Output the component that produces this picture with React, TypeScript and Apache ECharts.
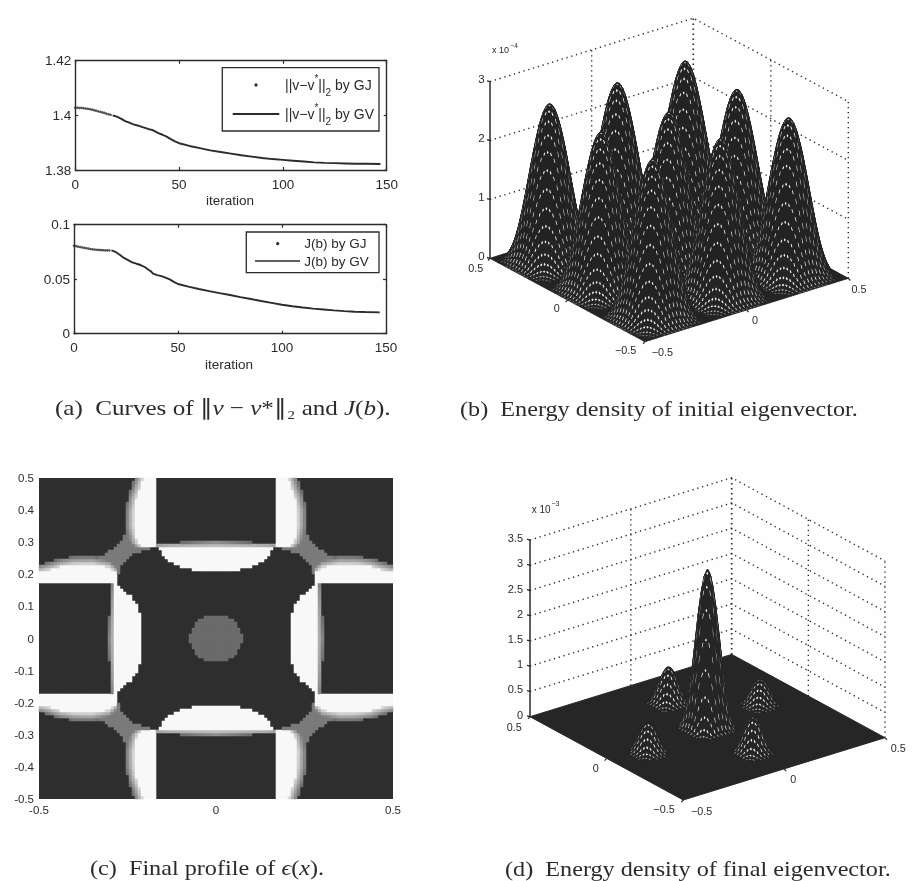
import React, { useEffect, useRef } from "react";
import * as echarts from "echarts";

// ---------- panel (a) ----------
const gjIter = [0,1,2,3,4,5,6,7,8,9,10,11,12,13,14,15,16,17];
const gjNorm = [1.4028,1.4028,1.4027,1.4027,1.4026,1.4025,1.4024,1.4023,1.4021,1.4019,1.4017,1.4015,1.4013,1.4011,1.4009,1.4006,1.4004,1.4002];
const gjCost = [.0807,.0803,.0799,.0795,.0791,.0787,.0784,.078,.0777,.0774,.0772,.077,.0768,.0767,.0766,.0765,.0765,.0765];
const gvIter = [18,20,22,24,26,28,30,32,34,36,37,38,40,42,44,46,48,50,55,60,65,70,75,80,85,90,95,100,105,110,115,120,125,130,135,140,147];
const gvNorm = [1.4,1.3995,1.3988,1.3979,1.3973,1.3967,1.3963,1.3958,1.3953,1.3948,1.3947,1.3943,1.3935,1.3929,1.3922,1.3913,1.3905,1.3898,1.3888,1.388,1.3872,1.3866,1.386,1.3854,1.3849,1.3844,1.384,1.3837,1.3834,1.3831,1.3828,1.3826,1.3825,1.3824,1.3823,1.3823,1.3822];
const gvCost = [.0765,.075,.0725,.0695,.0675,.0655,.0642,.063,.0612,.0585,.0572,.0552,.0538,.0528,.0515,.0498,.0475,.0456,.0432,.041,.039,.0372,.0355,.0335,.0318,.03,.0283,.0266,.0252,.024,.023,.0222,.0214,.0207,.0202,.0199,.0196];

// ---------- panels (b), (d): read from the silhouettes ----------
const halfLobe = [0,.007,.03,.066,.115,.175,.245,.325,.41,.5,.59,.675,.755,.825,.885,.935,.97,.992,1];
const peakHeightsB = [[2.69,2.68,2.68],[2.68,2.66,2.68],[2.67,2.68,2.69]]; // x 1e-4
// u, v, height (x 1e-3), half width
const bumpU = [.5,.5,.17,.52,.8];
const bumpV = [.5,.2,.45,.78,.55];
const bumpH = [3.13,.7,.6,.71,.5];
const bumpR = [.1,.08,.08,.08,.08];
const zTicksB = [0,1,2,3];
const zTicksD = [0,.5,1,1.5,2,2.5,3,3.5];
const zLabelsD = ["0","0.5","1","1.5","2","2.5","3","3.5"];

// ---------- panel (c): boundaries (one quadrant, mirrored) ----------
const armOuterY = [.283,.3,.35,.4,.44,.47,.5];
const armOuterA = [.205,.222,.232,.231,.224,.214,.206];
const capInnerA = [0,.05,.1,.13,.15,.165,.172];
const capInnerB = [.21,.211,.221,.24,.263,.281,.286];
const wedgeInX = [.17,.19,.21,.23,.25,.268,.282,.29];
const wedgeInY = [.279,.277,.272,.266,.245,.219,.182,.17];
const wedgeOutX = [.2,.235,.25,.264,.29,.31,.34,.377,.42];
const wedgeOutY = [.41,.365,.336,.312,.282,.264,.25,.238,.228];
const holeRadius = .073;

const lookup = (xs: number[], ys: number[], x: number) => {
  if (x <= xs[0]) return ys[0];
  for (let i = 1; i < xs.length; i++) {
    if (x <= xs[i]) return ys[i - 1] + (ys[i] - ys[i - 1]) * (x - xs[i - 1]) / (xs[i] - xs[i - 1]);
  }
  return ys[ys.length - 1];
};

const armCap = (a: number, b: number) => {
  if (a >= .172 && b >= .283) {
    const o = lookup(armOuterY, armOuterA, b);
    if (a <= o) return 1;
    if (a <= o + .024) return .85 - .55 * (a - o) / .024;
    return 0;
  }
  if (a < .172) {
    const i = lookup(capInnerA, capInnerB, a);
    if (b >= i && b <= .286) return 1;
    const band = .008 + .012 * (1 - a / .172);
    if (b > .286 && b <= .286 + band) return .8 - .5 * (b - .286) / band;
  }
  return 0;
};

const epsilonCell = (x0: number, y0: number) => {
  const x = Math.abs(x0), y = Math.abs(y0);
  if (Math.hypot(x, y) < holeRadius) return .3;
  let v = Math.max(armCap(x, y), armCap(y, x));
  if (v < .38 && x > .17 && y > .17) {
    const inWedge = (p: number, q: number) =>
      q >= lookup(wedgeInX, wedgeInY, p) && q <= lookup(wedgeOutX, wedgeOutY, p);
    if (inWedge(x, y) && inWedge(y, x)) v = .38;
  }
  return v;
};

const CELLS_X = 118;
const CELLS_Y = 107;
const epsCatsX = Array.from({ length: CELLS_X }, (_, i) => String(i));
const epsCatsY = Array.from({ length: CELLS_Y }, (_, i) => String(i));
const epsData: number[][] = [];
for (let i = 0; i < CELLS_X; i++) for (let j = 0; j < CELLS_Y; j++) {
  const v = epsilonCell((i + .5) / CELLS_X - .5, (j + .5) / CELLS_Y - .5);
  if (v > 0) epsData.push([i, j, v]);
}

// ---------- 3-D projection ----------
type View = { fx: number; fy: number; rx: number; ry: number; lx: number; ly: number; k: number };
const viewB: View = { fx: 645, fy: 341.7, rx: 848.3, ry: 278.3, lx: 490, ly: 258.3, k: 58.9 };
const viewD: View = { fx: 683.3, fy: 800, rx: 885, ry: 737.7, lx: 530, ly: 716.7, k: 50.48 };
const proj = (w: View, u: number, v: number, z: number) => [
  w.fx + u * (w.rx - w.fx) + v * (w.lx - w.fx),
  w.fy + u * (w.ry - w.fy) + v * (w.ly - w.fy) - z * w.k,
];

const LOBE = (halfLobe.length - 1) * 2;
const MESH = LOBE * 3;
const prof = (i: number) => { const m = i % LOBE; return halfLobe[m <= LOBE / 2 ? m : LOBE - m]; };
const zB = (i: number, j: number) =>
  peakHeightsB[Math.min(2, Math.floor(i / LOBE))][Math.min(2, Math.floor(j / LOBE))] * prof(i) * prof(j);
const lobeAt = (d: number) => {
  const t = Math.abs(d);
  if (t >= 1) return 0;
  const xs = halfLobe.map((_, n) => 1 - n / (halfLobe.length - 1));
  const rev = [...xs].reverse(); const vals = [...halfLobe].reverse();
  return lookup(rev, vals, t);
};
const zD = (i: number, j: number) => {
  let s = 0;
  const u = i / MESH, v = j / MESH;
  for (let n = 0; n < bumpU.length; n++) s += bumpH[n] * lobeAt((u - bumpU[n]) / bumpR[n]) * lobeAt((v - bumpV[n]) / bumpR[n]);
  return s;
};
type Quad = { pts: number[][]; lens: number[][] | null; glow: string };
const quads = (w: View, zf: (i: number, j: number) => number, minZ: number) => {
  const out: Quad[] = [];
  for (let i = MESH - 1; i >= 0; i--) for (let j = MESH - 1; j >= 0; j--) {
    const a = zf(i, j), b = zf(i + 1, j), c = zf(i + 1, j + 1), d = zf(i, j + 1);
    if (Math.max(a, b, c, d) < minZ) continue;
    const A = proj(w, i / MESH, j / MESH, a), B = proj(w, (i + 1) / MESH, j / MESH, b);
    const C = proj(w, (i + 1) / MESH, (j + 1) / MESH, c), D = proj(w, i / MESH, (j + 1) / MESH, d);
    let lens: number[][] | null = null;
    let glow = "#eee";
    const h = A[1] - C[1];
    if ((i + j) % 2 === 0 && h > 2.1) {
      const cx = (A[0] + B[0] + C[0] + D[0]) / 4, cy = (A[1] + B[1] + C[1] + D[1]) / 4;
      const f = h < 4 ? 1 : h > 10 ? .6 : 1 - .4 * (h - 4) / 6;
      const t = Math.min(1.7, .25 + .16 * h);
      const g = Math.round(h >= 6 ? 240 : 110 + 130 * (h - 2.1) / 3.9);
      glow = `rgb(${g},${g},${g})`;
      lens = [
        [cx + f * (D[0] - cx), cy + f * (D[1] - cy)],
        [cx, cy - t],
        [cx + f * (B[0] - cx), cy + f * (B[1] - cy)],
        [cx, cy + t],
      ];
    }
    out.push({ pts: [A, B, C, D], lens, glow });
  }
  return out;
};

// wall grid, floor and z axis
const INK = "#2b2b2b";
type Seg = { pts: number[][]; dash?: number[]; width?: number; fill?: string };
const walls = (w: View, ticks: number[], zmax: number): Seg[] => {
  const out: Seg[] = [];
  for (const z of ticks) {
    if (z === 0) continue;
    out.push({ pts: [proj(w, 0, 1, z), proj(w, 1, 1, z), proj(w, 1, 0, z)] });
  }
  out.push({ pts: [proj(w, .5, 1, 0), proj(w, .5, 1, zmax)] });
  out.push({ pts: [proj(w, 1, 1, 0), proj(w, 1, 1, zmax)], width: 1.7 });
  out.push({ pts: [proj(w, 1, .5, 0), proj(w, 1, .5, zmax)] });
  out.push({ pts: [proj(w, 1, 0, 0), proj(w, 1, 0, zmax)] });
  return out.map((s) => ({ dash: [1.3, 3.7], width: 1.4, ...s }));
};
const frontAxes = (w: View, ticks: number[], zmax: number): Seg[] => {
  const out: Seg[] = [{ pts: [proj(w, 0, 1, 0), proj(w, 0, 1, zmax)], width: 1.5 }];
  for (const z of ticks) {
    const p = proj(w, 0, 1, z);
    out.push({ pts: [[p[0] - 3, p[1] - .8], p], width: 1.3 });
  }
  const floorTicks = [[0, 1], [0, .5], [0, 0], [.5, 0], [1, 0]];
  for (const [u, v] of floorTicks) {
    const p = proj(w, u, v, 0);
    out.push({ pts: [p, [p[0] + (u > 0 ? 2 : -2), p[1] + 2.2]], width: 1.2 });
  }
  return out;
};

const floorPoly = (w: View): Quad => ({ pts: [proj(w, 0, 0, 0), proj(w, 1, 0, 0), proj(w, 1, 1, 0), proj(w, 0, 1, 0)], lens: null, glow: "#eee" });

const quadsB = quads(viewB, zB, -1);
const quadsD = quads(viewD, zD, .012);

const SANS = "Liberation Sans";
const SERIF = "Liberation Serif";

const pageAxisSeries = (name: string, segs: Seg[], z: number) => ({
  name, type: "custom", coordinateSystem: "cartesian2d", xAxisIndex: 6, yAxisIndex: 6, z, silent: true, clip: false,
  progressive: 0, encode: { x: 0, y: 1 }, data: segs.map((s) => [s.pts[0][0], s.pts[0][1]]),
  renderItem: (p: any, api: any) => {
    const s = segs[p.dataIndex];
    return {
      type: "polyline",
      shape: { points: s.pts.map((q) => api.coord(q)) },
      style: { stroke: INK, lineWidth: s.width ?? 1.2, lineDash: s.dash, fill: null },
    };
  },
});

const surfaceSeries = (name: string, qs: Quad[], fill: string, width: number, z: number) => ({
  name, type: "custom", coordinateSystem: "cartesian2d", xAxisIndex: 6, yAxisIndex: 6, z, silent: true, clip: false,
  progressive: 0, encode: { x: 0, y: 1 }, data: qs.map((q) => [q.pts[0][0], q.pts[0][1]]),
  renderItem: (p: any, api: any) => {
    const q = qs[p.dataIndex];
    const base = {
      type: "polygon",
      shape: { points: q.pts.map((c) => api.coord(c)) },
      style: { fill, stroke: fill, lineWidth: width },
    };
    if (!q.lens) return base;
    return {
      type: "group",
      children: [base, {
        type: "polygon",
        shape: { points: q.lens.map((c) => api.coord(c)) },
        style: { fill: q.glow },
      }],
    };
  },
});

const text = (x: number, y: number, s: string, size: number, align = "center", family = SANS, extra: any = {}) => ({
  type: "text", x, y, z: 50, silent: true,
  style: { text: s, fontSize: size, fontFamily: family, fill: "#2b2b2b", textAlign: align, textVerticalAlign: "middle", ...extra },
});
const caption = (x: number, y: number, s: string, sx: number) => ({ ...text(x, y, s, 22, "left", SERIF), scaleX: sx, originX: 0 });

const mathRich = (size: number) => ({
  t: { fontSize: size, fontFamily: SERIF, fill: "#2b2b2b" },
  i: { fontSize: size, fontFamily: SERIF, fontStyle: "italic", fill: "#2b2b2b" },
});
const legRich = {
  a: { fontSize: 14, fontFamily: SANS, fill: "#2b2b2b", lineHeight: 24, verticalAlign: "middle" },
  sup: { fontSize: 10, fontFamily: SANS, fill: "#2b2b2b", lineHeight: 24, verticalAlign: "top" },
  sub: { fontSize: 10, fontFamily: SANS, fill: "#2b2b2b", lineHeight: 24, verticalAlign: "bottom" },
};

const boxRect = (x: number, y: number, w: number, h: number) => ({
  type: "rect", z: 40, silent: true, shape: { x, y, width: w, height: h },
  style: { fill: "#fefefe", stroke: INK, lineWidth: 1.3 },
});
const legLine = (x1: number, x2: number, y: number, lw: number) => ({
  type: "line", z: 41, silent: true, shape: { x1, y1: y, x2, y2: y }, style: { stroke: INK, lineWidth: lw },
});
const legDot = (x: number, y: number) => ({
  type: "circle", z: 41, silent: true, shape: { cx: x, cy: y, r: 1.6 }, style: { fill: INK },
});

const frameAxis = (gridIndex: number, pos: string, min: number, max: number, interval: number, labels: boolean, margin: number) => ({
  type: "value", gridIndex, position: pos, min, max, interval,
  axisLine: { show: true, onZero: false, lineStyle: { color: INK, width: 1.4 } },
  axisTick: { show: true, inside: true, length: 3, lineStyle: { color: INK, width: 1.2 } },
  axisLabel: { show: labels, color: "#2b2b2b", fontFamily: SANS, fontSize: 13.5, margin },
  splitLine: { show: false },
});
const cValueAxis = (pos: string, interval: number) => ({
  type: "value", gridIndex: 2, position: pos, min: -.5, max: .5, interval,
  axisLine: { show: false }, axisTick: { show: false }, splitLine: { show: false },
  axisLabel: { color: "#2b2b2b", fontFamily: SANS, fontSize: 11.5, margin: 5 },
});
const catAxis = (pos: string, data: string[]) => ({ type: "category", gridIndex: 2, position: pos, data, show: false });
const pageAxis = (max: number, inverse: boolean) => ({
  type: "value", gridIndex: 3, min: 0, max, inverse, show: false, splitLine: { show: false },
});

export default function App() {
  const ref = useRef<HTMLDivElement>(null);
  useEffect(() => {
    const chart = echarts.init(ref.current!, undefined, { renderer: "svg" });
    chart.setOption({
      animation: false,
      backgroundColor: "#fefefe",
      grid: [
        { left: 75.3, top: 60.7, width: 311.4, height: 109.3 },
        { left: 74, top: 224.7, width: 312, height: 109 },
        { left: 39, top: 478, width: 354, height: 321, show: true, backgroundColor: "#2e2e2e", borderWidth: 0 },
        { left: 0, top: 0, width: 922, height: 881 },
      ],
      xAxis: [
        frameAxis(0, "bottom", 0, 150, 50, true, 7),
        frameAxis(0, "top", 0, 150, 50, false, 7),
        frameAxis(1, "bottom", 0, 150, 50, true, 7),
        frameAxis(1, "top", 0, 150, 50, false, 7),
        cValueAxis("bottom", .5),
        catAxis("top", epsCatsX),
        pageAxis(922, false),
      ],
      yAxis: [
        frameAxis(0, "left", 1.38, 1.42, .02, true, 4),
        frameAxis(0, "right", 1.38, 1.42, .02, false, 4),
        frameAxis(1, "left", 0, .1, .05, true, 4),
        frameAxis(1, "right", 0, .1, .05, false, 4),
        cValueAxis("left", .1),
        catAxis("right", epsCatsY),
        pageAxis(881, true),
      ],
      visualMap: {
        show: false, min: 0, max: 1, seriesIndex: 4, dimension: 2,
        inRange: { color: ["#2e2e2e", "#f8f8f8"] },
      },
      series: [
        { name: "||v-v*||2 by GJ", type: "scatter", xAxisIndex: 0, yAxisIndex: 0, symbolSize: 2.6, itemStyle: { color: INK },
          data: gjIter.map((x, i) => [x, gjNorm[i]]) },
        { name: "||v-v*||2 by GV", type: "line", xAxisIndex: 0, yAxisIndex: 0, showSymbol: false, lineStyle: { color: INK, width: 1.9 },
          data: gvIter.map((x, i) => [x, gvNorm[i]]) },
        { name: "J(b) by GJ", type: "scatter", xAxisIndex: 2, yAxisIndex: 2, symbolSize: 2.6, itemStyle: { color: INK },
          data: gjIter.map((x, i) => [x, gjCost[i]]) },
        { name: "J(b) by GV", type: "line", xAxisIndex: 2, yAxisIndex: 2, showSymbol: false, lineStyle: { color: INK, width: 1.9 },
          data: gvIter.map((x, i) => [x, gvCost[i]]) },
        { name: "epsilon", type: "heatmap", xAxisIndex: 5, yAxisIndex: 5, data: epsData, silent: true, progressive: 0, emphasis: { disabled: true } },
        pageAxisSeries("wallsB", walls(viewB, zTicksB, 3), 2),
        surfaceSeries("surfaceB", quadsB, "#232323", .8, 3),
        pageAxisSeries("axesB", frontAxes(viewB, zTicksB, 3), 4),
        pageAxisSeries("wallsD", walls(viewD, zTicksD, 3.5), 2),
        surfaceSeries("floorD", [floorPoly(viewD)], "#262626", 1, 3),
        surfaceSeries("surfaceD", quadsD, "#262626", .8, 3),
        pageAxisSeries("axesD", frontAxes(viewD, zTicksD, 3.5), 4),
      ],
      graphic: [
        // legends
        boxRect(222.3, 67.7, 156.7, 63.3),
        legDot(256, 85), legLine(232.7, 279.3, 114, 1.9),
        { type: "text", x: 285, y: 85, z: 42, silent: true, style: { text: "{a|||v−v}{sup|*}{a|||}{sub|2}{a| by GJ}", rich: legRich, textVerticalAlign: "middle", fill: INK } },
        { type: "text", x: 285, y: 114, z: 42, silent: true, style: { text: "{a|||v−v}{sup|*}{a|||}{sub|2}{a| by GV}", rich: legRich, textVerticalAlign: "middle", fill: INK } },
        boxRect(246.3, 232, 132.7, 40.7),
        legDot(277.7, 243.7), legLine(255, 300, 261, 1.5),
        text(304.3, 243.7, "J(b) by GJ", 13.5, "left"),
        text(304.3, 261, "J(b) by GV", 13.5, "left"),
        text(230, 200, "iteration", 13.5),
        text(229, 364, "iteration", 13.5),
        // panel b labels
        ...zTicksB.map((z) => text(484.7, proj(viewB, 0, 1, z)[1] - 2.5, String(z), 11.5, "right")),
        text(492, 50, "x 10", 9, "left"),
        text(510.5, 45, "−4", 6.5, "left"),
        text(475.7, 268.3, "0.5", 10.8), text(556.7, 308.3, "0", 10.8), text(625.7, 350, "−0.5", 10.8),
        text(662.3, 351.7, "−0.5", 10.8), text(755, 320, "0", 10.8), text(859, 289.3, "0.5", 10.8),
        // panel d labels
        ...zTicksD.map((z, i) => text(523, proj(viewD, 0, 1, z)[1] - 2, zLabelsD[i], 11, "right")),
        text(531.7, 509, "x 10", 10, "left"),
        text(551.5, 503, "−3", 7, "left"),
        text(514.3, 727.3, "0.5", 10.8), text(595.7, 767.7, "0", 10.8), text(664, 809, "−0.5", 10.8),
        text(701.7, 810.7, "−0.5", 10.8), text(793.3, 779.3, "0", 10.8), text(898.3, 748.3, "0.5", 10.8),
        // captions
        { type: "text", x: 55, y: 408, z: 50, silent: true, scaleX: 1.14, style: { text: "{t|(a)  Curves of ∥}{i|v}{t| − }{i|v}{t|*∥₂ and }{i|J}{t|(}{i|b}{t|).}", rich: mathRich(22), textVerticalAlign: "middle" } },
        caption(460, 408, "(b)  Energy density of initial eigenvector.", 1.1),
        { type: "text", x: 90, y: 867, z: 50, silent: true, scaleX: 1.1, style: { text: "{t|(c)  Final profile of }{i|ϵ}{t|(}{i|x}{t|).}", rich: mathRich(22), textVerticalAlign: "middle" } },
        caption(505, 868, "(d)  Energy density of final eigenvector.", 1.1),
      ],
    });
    return () => chart.dispose();
  }, []);
  return <div ref={ref} style={{ position: "absolute", left: 0, top: 0, width: 922, height: 881, filter: "blur(0.5px)" }} />;
}
